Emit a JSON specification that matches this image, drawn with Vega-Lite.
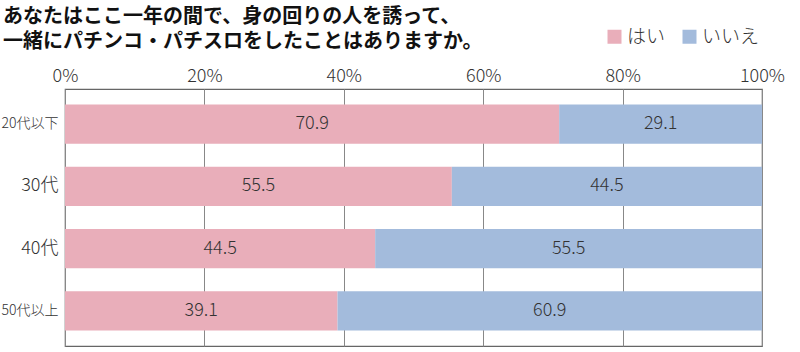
{
  "$schema": "https://vega.github.io/schema/vega-lite/v6.json",
  "width": 697,
  "height": 257,
  "autosize": {"type": "none"},
  "padding": {"left": 65, "top": 89, "right": 38, "bottom": 6},
  "background": "#ffffff",
  "config": {
    "font": "Noto Sans CJK JP",
    "view": {"stroke": "#666666", "strokeWidth": 1.2}
  },
  "title": {
    "text": ["あなたはここ一年の間で、身の回りの人を誘って、", "一緒にパチンコ・パチスロをしたことはありますか。"],
    "anchor": "start",
    "frame": "group",
    "font": "Noto Sans CJK JP",
    "fontSize": 20,
    "fontWeight": "bold",
    "color": "#111111",
    "lineHeight": 25,
    "dx": -62,
    "dy": 35,
    "offset": 10
  },
  "data": {
    "values": [
      {"age": "20代以下", "answer": "はい", "value": 70.9},
      {"age": "20代以下", "answer": "いいえ", "value": 29.1},
      {"age": "30代", "answer": "はい", "value": 55.5},
      {"age": "30代", "answer": "いいえ", "value": 44.5},
      {"age": "40代", "answer": "はい", "value": 44.5},
      {"age": "40代", "answer": "いいえ", "value": 55.5},
      {"age": "50代以上", "answer": "はい", "value": 39.1},
      {"age": "50代以上", "answer": "いいえ", "value": 60.9}
    ]
  },
  "transform": [
    {"stack": "value", "groupby": ["age"], "sort": [{"field": "answer", "order": "descending"}], "as": ["v0", "v1"]},
    {"calculate": "(datum.v0 + datum.v1) / 2", "as": "mid"}
  ],
  "encoding": {
    "y": {
      "field": "age",
      "type": "nominal",
      "sort": ["20代以下", "30代", "40代", "50代以上"],
      "scale": {"paddingInner": 0.37, "paddingOuter": 0.25},
      "axis": {
        "title": null,
        "domain": false,
        "ticks": false,
        "labelPadding": 7,
        "labelColor": "#333333",
        "labelFont": "Noto Sans CJK JP",
        "labelFontWeight": 300,
        "labelFontSize": {"condition": {"test": "length(datum.label) > 3", "value": 14}, "value": 18}
      }
    }
  },
  "layer": [
    {
      "mark": {"type": "bar", "opacity": 1},
      "encoding": {
        "x": {
          "field": "v0",
          "type": "quantitative",
          "scale": {"domain": [0, 100], "nice": false},
          "axis": {
            "orient": "top",
            "title": null,
            "values": [0, 20, 40, 60, 80, 100],
            "labelExpr": "datum.value + '%'",
            "domain": false,
            "ticks": false,
            "grid": true,
            "gridColor": "#888888",
            "gridWidth": 1,
            "gridOpacity": 1,
            "labelPadding": 4,
            "labelFontSize": 18,
            "labelFont": "Noto Sans CJK JP",
            "labelFontWeight": 300,
            "labelColor": "#333333",
            "labelFlush": false
          }
        },
        "x2": {"field": "v1"},
        "color": {
          "field": "answer",
          "type": "nominal",
          "scale": {"domain": ["はい", "いいえ"], "range": ["#e9aeba", "#a3bbdc"]},
          "legend": {
            "title": null,
            "orient": "none",
            "legendX": 540,
            "legendY": -62,
            "direction": "horizontal",
            "symbolType": "square",
            "symbolSize": 196,
            "symbolStrokeWidth": 0,
            "symbolOpacity": 1,
            "labelFontSize": 19,
            "labelFont": "Noto Sans CJK JP",
            "labelFontWeight": 300,
            "labelColor": "#333333",
            "labelOffset": 3,
            "columnPadding": 14,
            "padding": 0
          }
        }
      }
    },
    {
      "mark": {"type": "text", "fontSize": 18, "font": "Noto Sans CJK JP", "fontWeight": 300, "color": "#333333"},
      "encoding": {
        "x": {"field": "mid", "type": "quantitative"},
        "text": {"field": "value", "type": "quantitative", "format": ".1f"}
      }
    }
  ]
}
